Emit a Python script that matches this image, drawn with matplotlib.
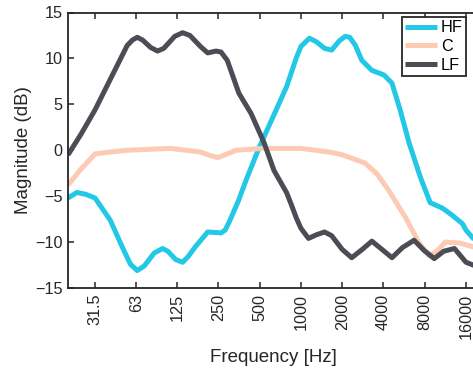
import numpy as np
import matplotlib
matplotlib.use("Agg")
import matplotlib.pyplot as plt

plt.rcParams['font.family'] = ['Liberation Sans', 'DejaVu Sans']

# values (frequency in Hz, magnitude in dB)
hf_freq = [20, 23.2, 27, 31.5, 40.6, 50, 57, 64, 72, 85, 97.7, 107, 122, 137, 150,
           170, 209, 261, 280, 300, 350, 397, 496, 620, 785, 927, 1000, 1153, 1300,
           1485, 1675, 1900, 2100, 2270, 2500, 2778, 3292, 4032, 4615, 5290, 6150,
           7420, 8760, 10750, 12500, 15080, 16000, 18780, 20000]
hf_db = [-5.2, -4.6, -4.8, -5.2, -7.6, -10.6, -12.4, -13.1, -12.6, -11.2, -10.7,
         -11.0, -11.9, -12.2, -11.6, -10.5, -8.9, -9.0, -8.7, -7.8, -5.5, -3.3, 0.3,
         3.5, 6.9, 10.1, 11.3, 12.2, 11.8, 11.1, 10.9, 11.9, 12.4, 12.3, 11.4, 9.8,
         8.7, 8.2, 7.3, 4.4, 0.8, -2.9, -5.7, -6.3, -7.0, -8.0, -8.7, -9.9, -10.3]

c_freq = [20, 24.4, 31.5, 40, 54, 112, 186, 220, 248, 290, 336, 530, 1000, 1624,
          2000, 2940, 3600, 4380, 5780, 7280, 8600, 9800, 11300, 14330, 18780, 20000]
c_db = [-3.8, -2.2, -0.4, -0.2, 0.0, 0.2, -0.2, -0.6, -0.8, -0.4, 0.0, 0.2, 0.2,
        -0.2, -0.5, -1.4, -2.6, -4.4, -7.3, -10.1, -11.5, -11.0, -10.0, -10.1,
        -10.6, -10.4]

lf_freq = [20, 25, 31.5, 40, 54, 59, 64, 70, 80, 90, 100, 120, 137, 155, 185, 209,
           240, 261, 290, 353, 433, 539, 636, 700, 785, 850, 927, 1000, 1135, 1300,
           1485, 1675, 2000, 2347, 2800, 3292, 3900, 4615, 5500, 6690, 7900, 9380,
           11000, 13170, 16000, 18780, 20000]
lf_db = [-0.5, 1.8, 4.4, 7.5, 11.4, 12.0, 12.3, 12.0, 11.2, 10.8, 11.1, 12.4, 12.8,
         12.5, 11.3, 10.6, 10.8, 10.7, 9.8, 6.2, 4.0, 0.8, -2.2, -3.3, -4.6, -5.9,
         -7.4, -8.5, -9.6, -9.2, -8.9, -9.3, -10.8, -11.7, -10.8, -9.9, -10.8,
         -11.7, -10.6, -9.8, -10.9, -11.8, -11.0, -10.7, -12.2, -12.6, -13.0]

tick_freqs = [31.5, 63, 125, 250, 500, 1000, 2000, 4000, 8000, 16000]
tick_labels = ['31.5', '63', '125', '250', '500', '1000', '2000', '4000', '8000', '16000']

fig = plt.figure(figsize=(4.73, 3.68), dpi=100)
ax = fig.add_axes([68 / 473, 1 - 288 / 368, 411.3 / 473, 275.5 / 368])

ax.plot(hf_freq, hf_db, color='#22c8e6', lw=3.6, label='HF', solid_capstyle='butt',
        solid_joinstyle='round')
ax.plot(c_freq, c_db, color='#fdcab3', lw=3.6, label='C', solid_capstyle='butt',
        solid_joinstyle='round')
ax.plot(lf_freq, lf_db, color='#4b4d55', lw=3.6, label='LF', solid_capstyle='butt',
        solid_joinstyle='round')

ax.set_xscale('log')
ax.set_xlim(20, 20000)
ax.set_ylim(-15, 15)
ax.set_xticks(tick_freqs)
ax.set_xticklabels(tick_labels, rotation=90)
ax.xaxis.set_minor_locator(matplotlib.ticker.NullLocator())
ax.set_yticks([-15, -10, -5, 0, 5, 10, 15])

ax.tick_params(direction='in', top=True, right=True, length=4, width=1.1,
               labelsize=11.7, colors='#262626', pad=4)
for s in ax.spines.values():
    s.set_color('#262626')
    s.set_linewidth(1.3)

ax.set_xlabel('Frequency [Hz]', fontsize=13.5, color='#262626')
ax.set_ylabel('Magnitude (dB)', fontsize=13.5, color='#262626')
ax.xaxis.set_label_coords((273 - 68) / 411.3, -(357 - 288) / 275.5)
ax.yaxis.set_label_coords(-(68 - 24) / 411.3, 0.5)
ax.xaxis.label.set_va('center')
ax.yaxis.label.set_va('center')

leg = ax.legend(loc='upper right', bbox_to_anchor=(0.9677, 0.9837), borderaxespad=0,
                fontsize=11.7, handlelength=1.97, handletextpad=0.25, labelspacing=0.23,
                borderpad=0.2, fancybox=False, framealpha=1)
leg.get_frame().set_edgecolor('#262626')
leg.get_frame().set_linewidth(1.3)

fig.savefig('out.png', dpi=100)
